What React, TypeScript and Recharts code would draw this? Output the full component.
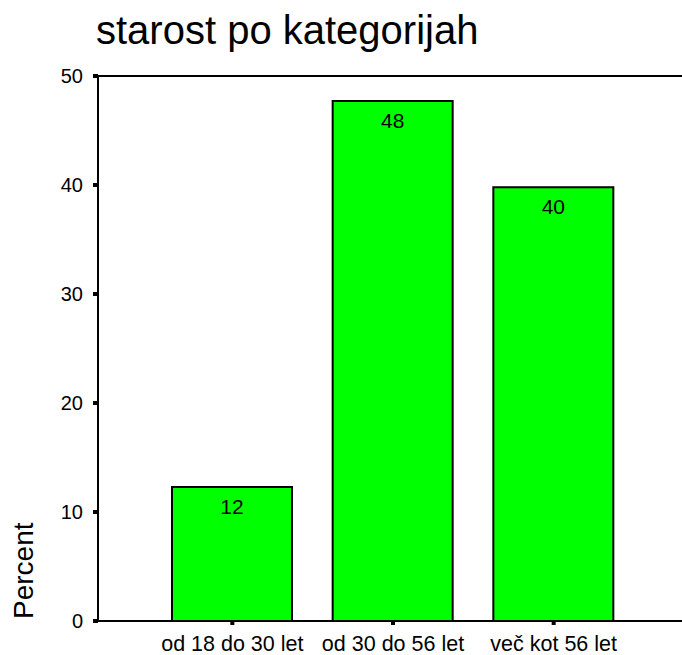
import React from 'react';
import { BarChart, Bar, XAxis, YAxis, LabelList, ReferenceLine, Label } from 'recharts';

const categories = ['od 18 do 30 let', 'od 30 do 56 let', 'več kot 56 let'];
const percents = [12.3, 47.7, 39.8];
const yTicks = [0, 10, 20, 30, 40, 50];

const data = categories.map((name, i) => ({ name, value: percents[i] }));

const FONT = '"Liberation Sans", Arial, sans-serif';

const PercentLabel = (props: any) => {
  const { viewBox } = props;
  const x = 33;
  const y = viewBox.y + viewBox.height - 2;
  return (
    <text x={x} y={y} transform={`rotate(-90, ${x}, ${y})`} fontSize={28} fill="#000" fontFamily={FONT}>
      Percent
    </text>
  );
};

export default function App() {
  return (
    <div style={{ position: 'absolute', left: 0, top: 0, width: 682, height: 655, background: '#fff', fontFamily: FONT }}>
      <div style={{ position: 'absolute', left: 96, top: 10, fontSize: 40, color: '#000', lineHeight: 1 }}>
        starost po kategorijah
      </div>
      <BarChart
        width={682}
        height={655}
        data={data}
        margin={{ top: 76, right: 0, left: 0, bottom: 0 }}
        barSize={120}
      >
        <XAxis
          dataKey="name"
          height={34}
          padding={{ left: 54, right: 48 }}
          axisLine={{ stroke: '#000', strokeWidth: 2 }}
          tickLine={{ stroke: '#000', strokeWidth: 4 }}
          tickSize={4}
          tickMargin={11}
          tick={{ fill: '#000', fontSize: 21.5, fontFamily: FONT }}
          interval={0}
        />
        <YAxis
          width={98}
          domain={[0, 50]}
          ticks={yTicks}
          axisLine={{ stroke: '#000', strokeWidth: 2 }}
          tickLine={{ stroke: '#000', strokeWidth: 4 }}
          tickSize={5}
          tickMargin={10}
          tick={{ fill: '#000', fontSize: 20, fontFamily: FONT }}
        >
          <Label content={<PercentLabel />} />
        </YAxis>
        <ReferenceLine y={50} stroke="#000" strokeWidth={2} />
        <Bar dataKey="value" fill="#00ff00" stroke="#000" strokeWidth={2} isAnimationActive={false}>
          <LabelList
            dataKey="value"
            position="insideTop"
            offset={12}
            formatter={(v: any) => Math.round(Number(v))}
            style={{ fill: '#000', fontSize: 21, fontFamily: FONT }}
          />
        </Bar>
      </BarChart>
    </div>
  );
}
